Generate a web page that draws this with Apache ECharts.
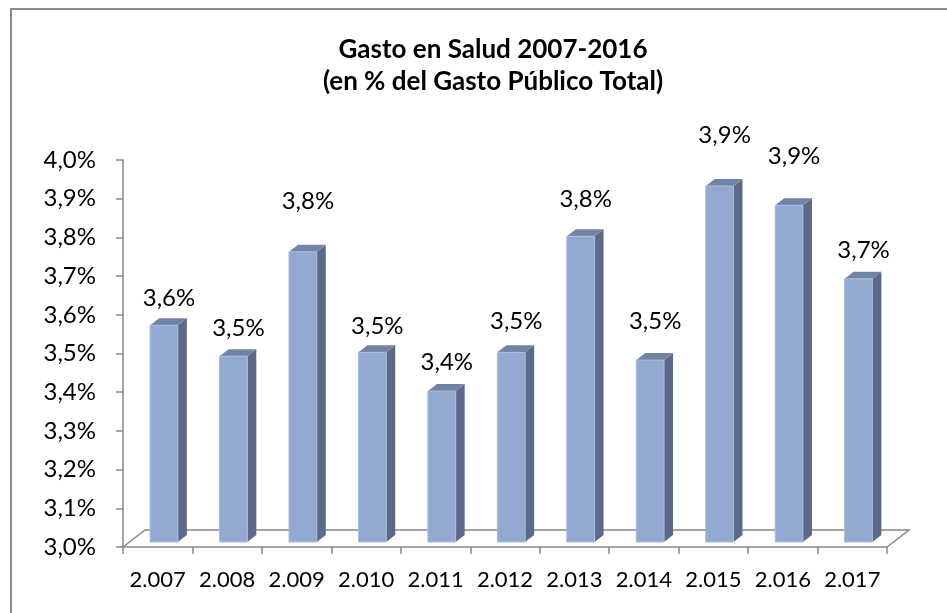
<!DOCTYPE html>
<html>
<head>
<meta charset="utf-8">
<script src="https://cdn.jsdelivr.net/npm/echarts@6/dist/echarts.min.js"></script>
<style>
  html, body { margin: 0; padding: 0; background: #fff; }
  #chart { width: 947px; height: 613px; }
</style>
</head>
<body>
<div id="chart"></div>
<script>
// datos
const years = ['2.007', '2.008', '2.009', '2.010', '2.011', '2.012', '2.013', '2.014', '2.015', '2.016', '2.017'];
const gasto = [3.56, 3.48, 3.75, 3.49, 3.39, 3.49, 3.79, 3.47, 3.92, 3.87, 3.68];
const yMin = 3.0;
const yMax = 4.0;
const yStep = 0.1;

// distancia (px) de la etiqueta sobre la cara frontal, como en el original
const labelLift = [27, 28, 50, 26, 29, 31, 37, 39, 51, 49, 29];

const fmt = v => v.toFixed(1).replace('.', ',') + '%';

const chart = echarts.init(document.getElementById('chart'));

function renderBar(params, api) {
  const i = api.value(0);
  const val = api.value(1);
  const top = api.coord([i, val]);
  const base = api.coord([i, yMin]);
  const band = api.size([1, 0])[0];
  const w = band * 0.4;
  const sx = band * 0.09, sy = -5;   // la barra esta a media profundidad del piso
  const dx = 9, dy = -7;             // profundidad de la barra
  const x0 = top[0] - w / 2 + sx;
  const yt = top[1] + sy;
  const yb = base[1] + sy;
  const children = [];
  if (params.dataIndex === 0) {
    // piso 3D
    const cs = params.coordSys;
    const fx = 22, fy = -17;
    const yf = cs.y + cs.height;
    children.push({
      type: 'polyline',
      shape: { points: [[cs.x, yf], [cs.x + fx, yf + fy], [cs.x + cs.width + fx, yf + fy], [cs.x + cs.width, yf]] },
      style: { stroke: '#868686', lineWidth: 1.5, fill: null }
    });
  }
  children.push({
    type: 'polygon',
    shape: { points: [[x0 + w, yt], [x0 + w + dx, yt + dy], [x0 + w + dx, yb + dy], [x0 + w, yb]] },
    style: { fill: '#5c6a87' }
  });
  children.push({
    type: 'polygon',
    shape: { points: [[x0, yt], [x0 + dx, yt + dy], [x0 + w + dx, yt + dy], [x0 + w, yt]] },
    style: { fill: '#7283a4' }
  });
  children.push({
    type: 'rect',
    shape: { x: x0, y: yt, width: w, height: yb - yt },
    style: { fill: '#94a9d1', stroke: '#a9bbdc', lineWidth: 1 }
  });
  children.push({
    type: 'text',
    x: x0 + w / 2 + 5,
    y: yt - labelLift[params.dataIndex],
    style: {
      text: fmt(val),
      fontFamily: 'Lato',
      fontSize: 24,
      fill: '#000',
      align: 'center',
      verticalAlign: 'middle'
    }
  });
  return { type: 'group', children: children };
}

const option = {
  animation: false,
  backgroundColor: '#fff',
  title: {
    text: 'Gasto en Salud 2007-2016\n(en % del Gasto Público Total)',
    left: 488,
    textAlign: 'center',
    top: 29,
    textStyle: {
      fontFamily: 'Lato',
      fontWeight: 'bold',
      fontSize: 26,
      lineHeight: 32,
      color: '#000'
    }
  },
  graphic: [{
    type: 'rect',
    shape: { x: 11, y: 9, width: 1000, height: 1000 },
    style: { fill: null, stroke: '#8a8a8a', lineWidth: 2 },
    z: -1
  }],
  grid: {
    left: 123,
    right: 60,
    top: 160,
    bottom: 66
  },
  xAxis: {
    type: 'category',
    data: years,
    axisLine: { lineStyle: { color: '#868686', width: 1.5 } },
    axisTick: { show: true, length: 7, lineStyle: { color: '#868686', width: 1.5 } },
    axisLabel: { interval: 0, margin: 22, fontFamily: 'Lato', fontSize: 22, color: '#000' },
    splitLine: { show: false }
  },
  yAxis: {
    type: 'value',
    min: yMin,
    max: yMax,
    interval: yStep,
    axisLine: { show: true, lineStyle: { color: '#868686', width: 1.5 } },
    axisTick: { show: true, length: 7, lineStyle: { color: '#868686', width: 1.5 } },
    axisLabel: { margin: 27, fontFamily: 'Lato', fontSize: 24, color: '#000', formatter: v => fmt(v) },
    splitLine: { show: false }
  },
  series: [{
    type: 'custom',
    renderItem: renderBar,
    encode: { x: 0, y: 1 },
    data: gasto.map((v, i) => [i, v]),
    clip: false
  }]
};

chart.setOption(option);
</script>
</body>
</html>
